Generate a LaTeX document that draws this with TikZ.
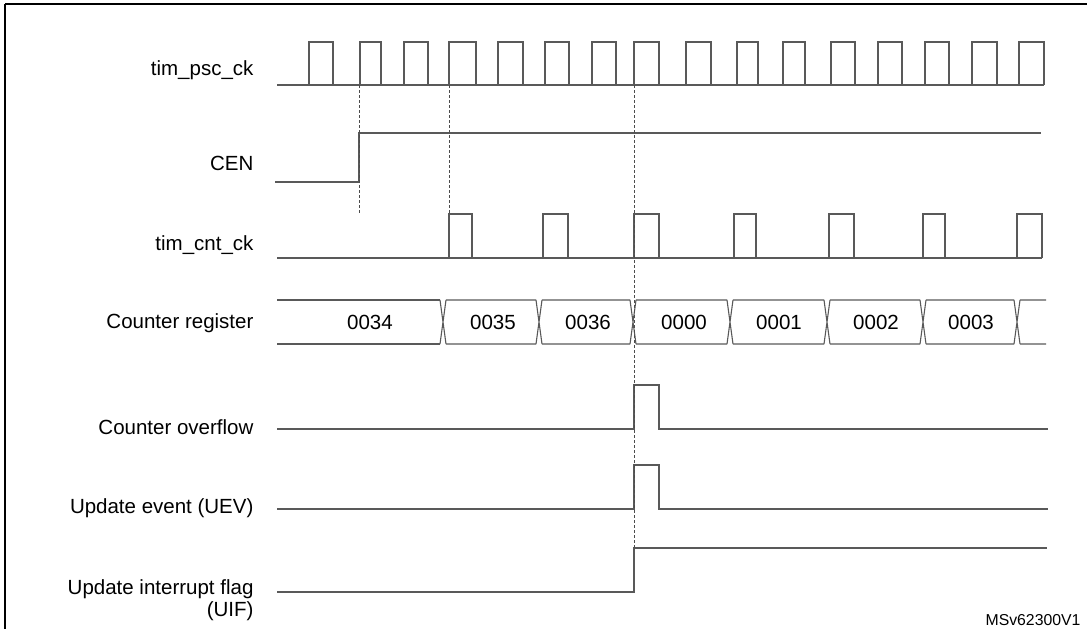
\documentclass[tikz,border=0pt]{standalone}
\usepackage{fontspec}
\setmainfont{Liberation Sans}
\usetikzlibrary{positioning}

\begin{document}
\begin{tikzpicture}[x=1pt, y=-1pt, line width=1.1pt,
  wave/.style={draw=black!65},
  guide/.style={black!70, dashed, line width=0.9pt, dash pattern=on 3pt off 2pt},
  sig/.style={anchor=east, font=\fontsize{20.5}{22}\selectfont, inner sep=0pt},
  val/.style={font=\fontsize{20.5}{22}\selectfont, inner sep=0pt}]
\useasboundingbox (0,0) rectangle (1087,629);
\draw [line width=2pt] (5,4) -- (5,629);
\draw [line width=2pt] (5,4) -- (1087,4);
% signal names
\node [sig] (psc) at (254,70) {tim\_psc\_ck};
\node [sig] (cen) at (254,163) {CEN};
\node [sig] (cnt) at (254,245) {tim\_cnt\_ck};
\node [sig] (reg) at (254,323) {Counter register};
\node [sig] (ovf) at (254,427) {Counter overflow};
\node [sig] (uev) at (254,508) {Update event (UEV)};
\node [sig] (uif) at (254,589) {Update interrupt flag};
\node [sig, below=2pt of uif.south east, anchor=north east] (uif2) {(UIF)};
\node [anchor=east, font=\fontsize{15.8}{17}\selectfont, inner sep=0pt] (ref) at (1081,620) {MSv62300V1};
% tim_psc_ck
\draw [wave] (277,85) -- (1044,85);
\foreach \r/\f in {309/333, 360/381, 404/428, 449/476, 498/523, 545/569, 592/616, 634/659,
                   686/711, 737/758, 783/805, 831/855, 878/902, 925/949, 972/997, 1019/1044}
  \draw [wave] (\r,85) -- (\r,42) -- (\f,42) -- (\f,85);
% CEN
\draw [wave] (275,182) -- (359,182) -- (359,133) -- (1041,133);
% tim_cnt_ck
\draw [wave] (277,258) -- (1042,258);
\foreach \r/\f in {449/472, 543/568, 634/659, 734/756, 829/854, 923/945, 1017/1042}
  \draw [wave] (\r,258) -- (\r,214) -- (\f,214) -- (\f,258);
% counter register
\draw [wave] (277,300) -- (440,300) (277,344) -- (440,344);
\foreach \a/\b in {443/539, 539/633, 633/730, 730/827, 827/923, 923/1017}
  \draw [wave] (\a-3,300) -- (\a+3,344) (\a-3,344) -- (\a+3,300)
               (\a+3,300) -- (\b-3,300) (\a+3,344) -- (\b-3,344);
\draw [wave] (1014,300) -- (1020,344) (1014,344) -- (1020,300)
             (1020,300) -- (1046,300) (1020,344) -- (1046,344);
\foreach \x/\t in {370/0034, 493/0035, 588/0036, 684/0000, 779/0001, 876/0002, 971/0003}
  \node [val] (v\t) at (\x,322) {\t};
% overflow, UEV, UIF
\draw [wave] (277,429) -- (634,429) -- (634,385) -- (659,385) -- (659,429) -- (1048,429);
\draw [wave] (277,509) -- (634,509) -- (634,465) -- (659,465) -- (659,509) -- (1048,509);
\draw [wave] (277,592) -- (634,592) -- (634,548) -- (1047,548);
% guides
\draw [guide] (359,85) -- (359,213);
\draw [guide] (449,85) -- (449,214);
\draw [guide] (634,85) -- (634,548);
\end{tikzpicture}
\end{document}
